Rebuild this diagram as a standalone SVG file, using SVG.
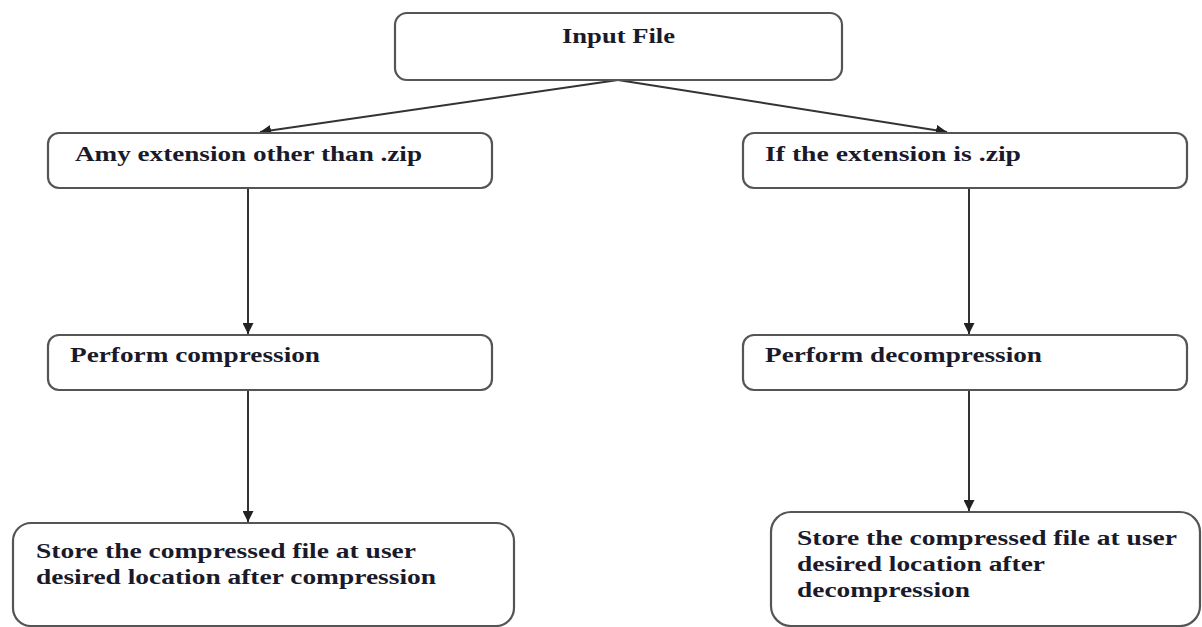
<svg xmlns="http://www.w3.org/2000/svg" width="1202" height="627" viewBox="0 0 1202 627">
<style>
.box{fill:#fff;stroke:#555;stroke-width:2.2}
.t{font-family:"Times New Roman","Liberation Serif",Tinos,"Nimbus Roman",Times,serif;font-weight:bold;font-size:20px;fill:#1a1a2a}
.c{fill:none;stroke:#333;stroke-width:2}
</style>
<defs>
<marker id="ah" viewBox="0 0 10 10" refX="10" refY="5" markerWidth="5.5" markerHeight="5.5" markerUnits="strokeWidth" orient="auto">
<path d="M0,0 L10,5 L0,10 z" fill="#222"/>
</marker>
</defs>
<rect width="1202" height="627" fill="#fff"/>
<g id="connectors">
<line class="c" x1="618" y1="80" x2="260" y2="132" marker-end="url(#ah)"/>
<line class="c" x1="618" y1="80" x2="947" y2="132" marker-end="url(#ah)"/>
<line class="c" x1="248" y1="188" x2="248" y2="334" marker-end="url(#ah)"/>
<line class="c" x1="969" y1="188" x2="969" y2="334" marker-end="url(#ah)"/>
<line class="c" x1="248" y1="390" x2="248" y2="522" marker-end="url(#ah)"/>
<line class="c" x1="969" y1="390" x2="969" y2="511" marker-end="url(#ah)"/>
</g>
<g id="input">
<rect class="box" x="395" y="13" width="447" height="67" rx="12"/>
<text class="t" x="562" y="43" textLength="113" lengthAdjust="spacingAndGlyphs">Input File</text>
</g>
<g id="other-ext">
<rect class="box" x="48" y="133" width="444" height="55" rx="11"/>
<text class="t" x="75" y="161" textLength="347" lengthAdjust="spacingAndGlyphs">Amy extension other than .zip</text>
</g>
<g id="zip-ext">
<rect class="box" x="743" y="133" width="444" height="55" rx="11"/>
<text class="t" x="765" y="161" textLength="256" lengthAdjust="spacingAndGlyphs">If the extension is .zip</text>
</g>
<g id="compress">
<rect class="box" x="48" y="335" width="444" height="55" rx="11"/>
<text class="t" x="70" y="362" textLength="250" lengthAdjust="spacingAndGlyphs">Perform compression</text>
</g>
<g id="decompress">
<rect class="box" x="743" y="335" width="444" height="55" rx="11"/>
<text class="t" x="765" y="362" textLength="277" lengthAdjust="spacingAndGlyphs">Perform decompression</text>
</g>
<g id="store-compressed">
<rect class="box" x="13" y="523" width="501" height="103" rx="18"/>
<text class="t" x="36" y="558" textLength="380" lengthAdjust="spacingAndGlyphs">Store the compressed file at user</text>
<text class="t" x="36" y="584" textLength="400" lengthAdjust="spacingAndGlyphs">desired location after compression</text>
</g>
<g id="store-decompressed">
<rect class="box" x="771" y="512" width="429" height="114" rx="20"/>
<text class="t" x="797" y="545" textLength="380" lengthAdjust="spacingAndGlyphs">Store the compressed file at user</text>
<text class="t" x="797" y="571" textLength="248" lengthAdjust="spacingAndGlyphs">desired location after</text>
<text class="t" x="797" y="597" textLength="173" lengthAdjust="spacingAndGlyphs">decompression</text>
</g>
</svg>
